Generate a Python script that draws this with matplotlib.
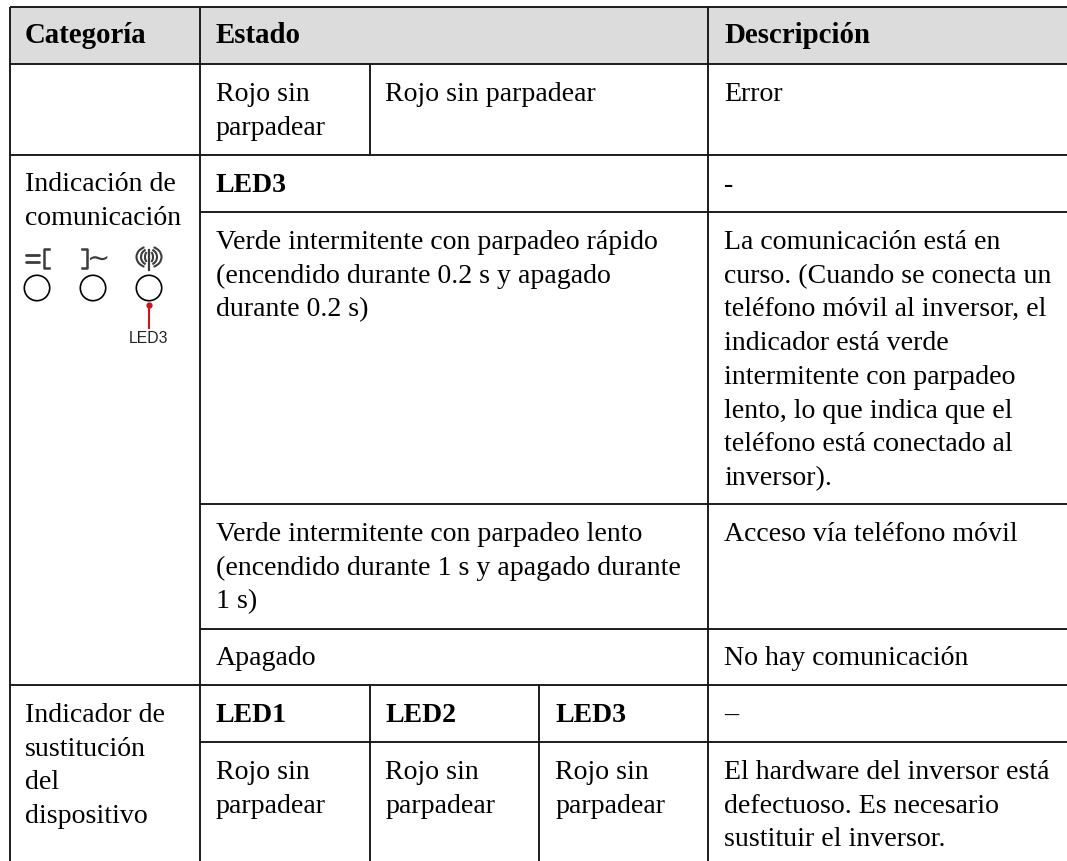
import matplotlib.pyplot as plt
from matplotlib.patches import Arc, Circle, Rectangle

plt.rcParams['font.family'] = ['Liberation Serif', 'DejaVu Serif']

W, H = 1067, 861
LINE = "#141414"
HEADER = "#dcdcdc"
ICON = "#3c3c3c"
FS = 20.05
FS_HEAD = 20.8
LEADING = 33.7

# x, baseline y, text
headers = [(25, 43, "Categoría"), (216, 43, "Estado"), (724, 43, "Descripción")]

# x, first baseline y, text, bold
cells = [
    (216, 101, "Rojo sin\nparpadear", False),
    (385, 101, "Rojo sin parpadear", False),
    (724, 101, "Error", False),
    (25, 191, "Indicación de\ncomunicación", False),
    (216, 192, "LED3", True),
    (724, 192, "-", False),
    (216, 249, "Verde intermitente con parpadeo rápido\n(encendido durante 0.2 s y apagado\ndurante 0.2 s)", False),
    (724, 249, "La comunicación está en\ncurso. (Cuando se conecta un\nteléfono móvil al inversor, el\nindicador está verde\nintermitente con parpadeo\nlento, lo que indica que el\nteléfono está conectado al\ninversor).", False),
    (216, 541, "Verde intermitente con parpadeo lento\n(encendido durante 1 s y apagado durante\n1 s)", False),
    (724, 541, "Acceso vía teléfono móvil", False),
    (216, 665, "Apagado", False),
    (724, 665, "No hay comunicación", False),
    (25, 722, "Indicador de\nsustitución\ndel\ndispositivo", False),
    (216, 722, "LED1", True),
    (385, 722, "LED2", True),
    (555, 722, "LED3", True),
    (724, 722, "–", False),
    (216, 779, "Rojo sin\nparpadear", False),
    (385, 779, "Rojo sin\nparpadear", False),
    (555, 779, "Rojo sin\nparpadear", False),
    (724, 779, "El hardware del inversor está\ndefectuoso. Es necesario\nsustituir el inversor.", False),
]

# y, x start
h_lines = [
    (7, 10), (64, 10), (155, 10),
    (212, 200), (504, 200), (629, 200),
    (685, 10), (742, 200),
]
# x, y start, y end
v_lines = [
    (10, 7, 861), (200, 7, 861), (708, 7, 861),
    (370, 64, 155), (370, 685, 861), (539, 685, 861),
]

led_x = [37, 93, 149]
led_y = 288
led_r = 12.7

fig = plt.figure(figsize=(W / 100, H / 100), dpi=100)
ax = fig.add_axes([0, 0, 1, 1])
ax.set_xlim(0, W)
ax.set_ylim(H, 0)
ax.axis('off')

ax.add_patch(Rectangle((10, 7), W - 10, 57, color=HEADER, lw=0))

for y, x0 in h_lines:
    ax.plot([x0, W], [y, y], color=LINE, lw=1.35, solid_capstyle='butt')
for x, y0, y1 in v_lines:
    ax.plot([x, x], [y0, y1], color=LINE, lw=1.35, solid_capstyle='butt')

for x, y, txt in headers:
    ax.text(x, y, txt, fontsize=FS_HEAD, fontweight='bold', color='black', va='baseline')

for x, y, txt, bold in cells:
    for i, line in enumerate(txt.split("\n")):
        ax.text(x, y + i * LEADING, line, fontsize=FS, fontweight='bold' if bold else 'normal',
                color='black', va='baseline')

# LED icon
for x in led_x:
    ax.add_patch(Circle((x, led_y), led_r, fill=False, ec='black', lw=1.2))

# first symbol: two bars and a bracket
ax.plot([26, 39], [255, 255], color=ICON, lw=2, solid_capstyle='round')
ax.plot([26, 39], [262, 262], color=ICON, lw=2, solid_capstyle='round')
ax.plot([49, 44, 44, 49], [249, 249, 268, 268], color=ICON, lw=1.8)

# second symbol: bracket and wave
ax.plot([82, 87, 87, 82], [249, 249, 268, 268], color=ICON, lw=1.8)
ax.text(98, 258, "∼", fontsize=20, family='DejaVu Sans', ha='center', va='center', color=ICON)

# third symbol: antenna with arcs
ax.plot([149, 149], [250, 270], color=ICON, lw=1.6)
for d, h in ((8, 12), (16, 16), (25, 21)):
    ax.add_patch(Arc((149, 257), d, h, theta1=115, theta2=245, ec=ICON, lw=1.5))
    ax.add_patch(Arc((149, 257), d, h, theta1=-65, theta2=65, ec=ICON, lw=1.5))

ax.plot([149, 149], [305, 328], color='#d0121b', lw=1.5)
ax.plot([149], [305], 'o', color='#d0121b', ms=3.5)
ax.text(149, 343, "LED3", fontsize=11.3, family='Liberation Sans', ha='center', va='baseline', color='#222222')

fig.savefig("out.png", dpi=100)
